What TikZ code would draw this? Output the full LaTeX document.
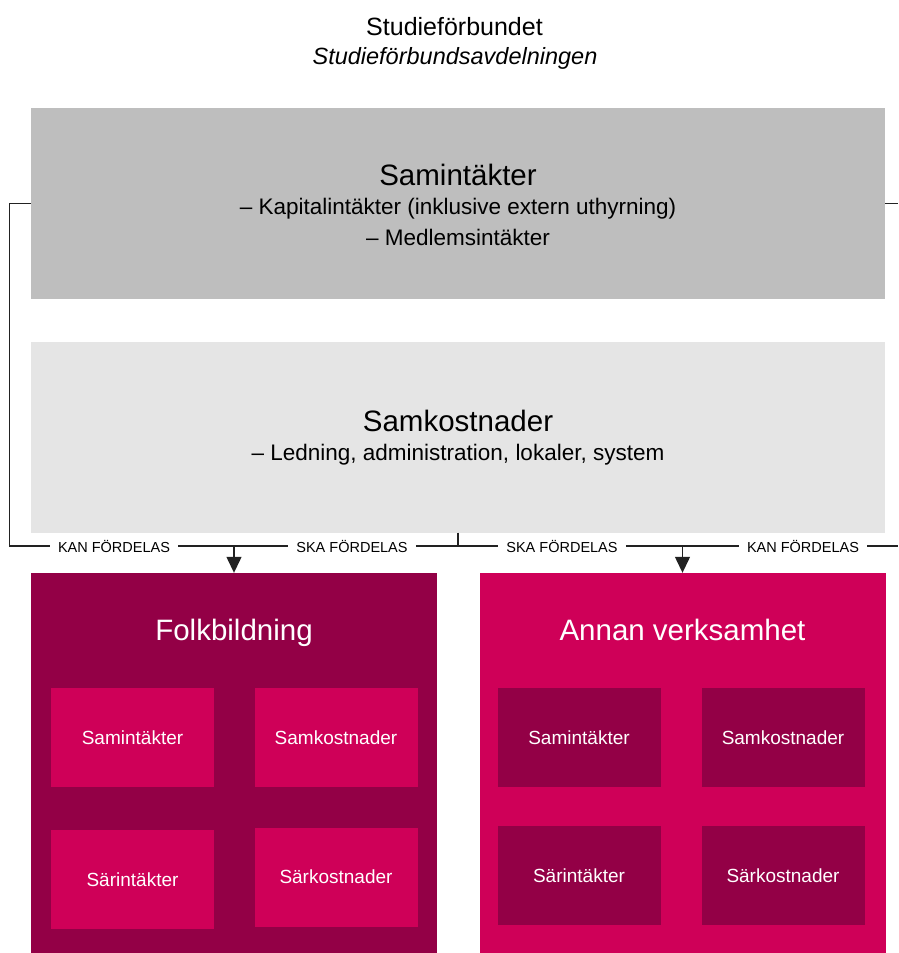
\documentclass[tikz,border=0pt]{standalone}
\usepackage{fontspec}
\setmainfont{Liberation Sans}
\usetikzlibrary{arrows.meta}
\definecolor{grisfonce}{HTML}{BEBEBE}
\definecolor{grisclair}{HTML}{E5E5E5}
\definecolor{bordeaux}{HTML}{930046}
\definecolor{framboise}{HTML}{CF0058}
\definecolor{trait}{HTML}{222222}
\begin{document}
\begin{tikzpicture}[x=1pt, y=-1pt,
		bloc/.style		= {inner sep=0pt, minimum width=854pt, minimum height=191pt},
		grand/.style	= {inner sep=0pt, minimum width=406pt, minimum height=380pt},
		petit/.style	= {inner sep=0pt, minimum width=163pt, minimum height=99pt, text=white,
							font=\fontsize{19}{21}\selectfont},
		titre/.style	= {inner sep=0pt, font=\fontsize{29.5}{32}\selectfont},
		ligne/.style	= {inner sep=0pt, font=\fontsize{22.5}{24}\selectfont},
		etiq/.style		= {inner xsep=8pt, inner ysep=0pt, font=\fontsize{14.5}{16}\selectfont},
		lien/.style		= {line width=1.3pt, draw=trait},
		fleche/.style	= {lien, -{Triangle[length=16pt, width=15pt]}}]
	% Cadre
	\useasboundingbox 		(0,0) 	rectangle 	(898,953) ;
	% Titre
	\node (etab) 	at (454.5,27) 	{\fontsize{25}{28}\selectfont Studieförbundet} ;
	\node (avd) 	at (455,58) 	{\fontsize{23.5}{26}\selectfont\itshape Studieförbundsavdelningen} ;
	% Boîtes du haut
	\node [bloc, fill=grisfonce] 	(samint) 	at (458,203.5) 	{} ;
	\node [bloc, fill=grisclair] 	(samkost) 	at (458,437) 	{} ;
	\node [titre] (samintT) 	at (458,175) 	{Samintäkter} ;
	\node [ligne] (samintA) 	at (458,209) 	{– Kapitalintäkter (inklusive extern uthyrning)} ;
	\node [ligne] (samintB) 	at (458,237) 	{– Medlemsintäkter} ;
	\node [titre] (samkostT) 	at (458,421) 	{Samkostnader} ;
	\node [ligne] (samkostA) 	at (458,455) 	{– Ledning, administration, lokaler, system} ;
	% Verksamheter
	\node [grand, fill=bordeaux] 	(folk) 		at (234,763) 	{} ;
	\node [grand, fill=framboise] 	(annan) 	at (682.5,763) 	{} ;
	\node [titre, text=white] (folkT) 	at (234,633) 	{Folkbildning} ;
	\node [titre, text=white] (annanT) 	at (682.5,630) 	{Annan verksamhet} ;
	% Petites boîtes
	\node [petit, fill=framboise] 	(fSamint) 	at (132.5,737.5) 	{Samintäkter} ;
	\node [petit, fill=framboise] 	(fSamkost) 	at (336,737.5) 		{Samkostnader} ;
	\node [petit, fill=framboise] 	(fSarint) 	at (132.5,879.5) 	{Särintäkter} ;
	\node [petit, fill=framboise] 	(fSarkost) 	at (336,877) 		{Särkostnader} ;
	\node [petit, fill=bordeaux] 	(aSamint) 	at (579,737.5) 		{Samintäkter} ;
	\node [petit, fill=bordeaux] 	(aSamkost) 	at (783,737.5) 		{Samkostnader} ;
	\node [petit, fill=bordeaux] 	(aSarint) 	at (579,875.5) 		{Särintäkter} ;
	\node [petit, fill=bordeaux] 	(aSarkost) 	at (783,875.5) 		{Särkostnader} ;
	% Étiquettes
	\node [etiq] (kan1) 	at (114,546) 	{KAN FÖRDELAS} ;
	\node [etiq] (ska1) 	at (352,546) 	{SKA FÖRDELAS} ;
	\node [etiq] (ska2) 	at (562,546) 	{SKA FÖRDELAS} ;
	\node [etiq] (kan2) 	at (803,546) 	{KAN FÖRDELAS} ;
	\coordinate (bordD) 	at (898,546) ;
	% Liens
	\draw [lien] 	(samint.west) -- ++(-21,0) |- (kan1.west) ;
	\draw [lien] 	(kan1.east) -- (ska1.west) ;
	\draw [lien] 	(ska1.east) -- (ska2.west) ;
	\draw [lien] 	(ska2.east) -- (kan2.west) ;
	\draw [lien] 	(kan2.east) -- (bordD) ;
	\draw [lien] 	(samint.east) -- ++(13,0) ;
	\draw [lien] 	(samkost.south) -- (samkost.south |- ska1.east) ;
	% Flèches
	\draw [fleche] 	(kan1.east -| folk.north) -- (folk.north) ;
	\draw [fleche] 	(kan2.west -| annan.north) -- (annan.north) ;
\end{tikzpicture}
\end{document}
